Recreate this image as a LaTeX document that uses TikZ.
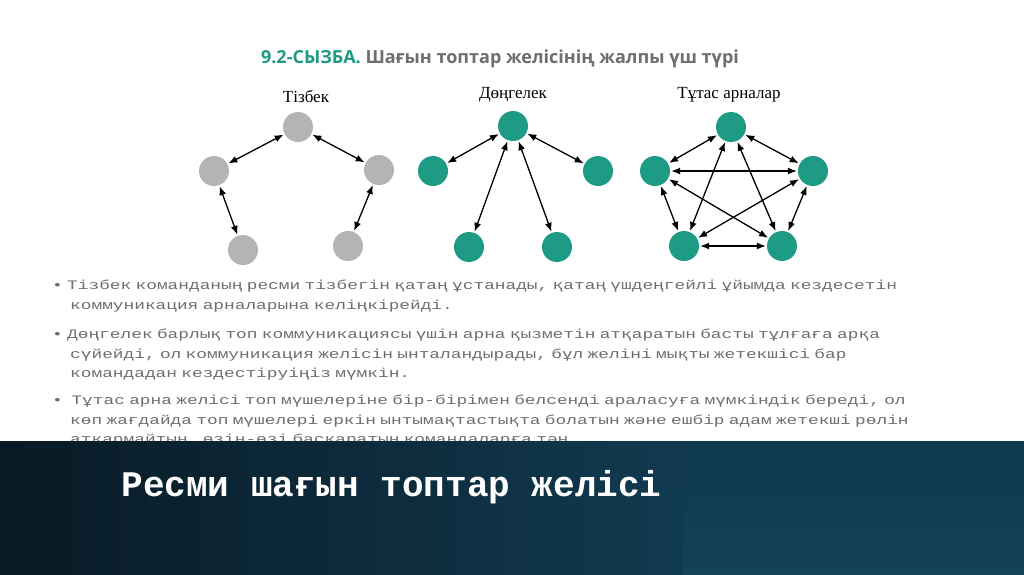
\documentclass[tikz,border=0pt]{standalone}
\usepackage{fontspec}
\setmainfont{Liberation Serif}
\newfontfamily\titlefont{Open Sans}
\newfontfamily\bodyfont[FakeStretch=1.37]{Liberation Mono}
\newfontfamily\bigfont{Liberation Mono}
\usetikzlibrary{arrows.meta}
\definecolor{tealc}{HTML}{1E9B84}
\definecolor{greyc}{HTML}{B4B4B4}
\definecolor{txtc}{HTML}{6E6E6E}
\tikzset{
  x=1pt,y=-1pt,
  gnode/.style={circle,fill=greyc,minimum size=30pt,inner sep=0pt},
  tnode/.style={circle,fill=tealc,minimum size=30pt,inner sep=0pt},
  link/.style={{Latex[length=9pt,width=7pt]}-{Latex[length=9pt,width=7pt]},line width=1.3pt,shorten <=1pt,shorten >=1pt},
  lbl/.style={font=\fontsize{17}{19}\selectfont},
  bullet/.style={anchor=north west,align=left,text width=950pt,inner sep=0pt,text=txtc,font=\bodyfont\fontsize{13}{19.5}\selectfont}
}
\begin{document}
\begin{tikzpicture}
\useasboundingbox (0,0) rectangle (1024,574);
\fill[white] (0,0) rectangle (1024,574);
\node (title) at (500,59) {\titlefont\bfseries\fontsize{18}{20}\selectfont\textcolor{tealc}{9.2-СЫЗБА.}\ \textcolor{txtc}{Шағын топтар желісінің жалпы үш түрі}};
\node[lbl] (l1) at (306,96) {Тізбек};
\node[lbl] (l2) at (513,95) {Дөңгелек};
\node[lbl] (l3) at (729,95) {Тұтас арналар};
% chain
\node[gnode] (c1) at (298,127) {};
\node[gnode] (c2) at (214,171) {};
\node[gnode] (c3) at (379,170) {};
\node[gnode] (c4) at (243,250) {};
\node[gnode] (c5) at (348,246) {};
\draw[link] (c1) -- (c2); \draw[link] (c1) -- (c3);
\draw[link] (c2) -- (c4); \draw[link] (c3) -- (c5);
% wheel
\node[tnode] (w1) at (513,126) {};
\node[tnode] (w2) at (433,171) {};
\node[tnode] (w3) at (598,171) {};
\node[tnode] (w4) at (469,247) {};
\node[tnode] (w5) at (557,247) {};
\foreach \n in {w2,w3,w4,w5} \draw[link] (w1) -- (\n);
% full
\node[tnode] (f1) at (731,127) {};
\node[tnode] (f2) at (655,171) {};
\node[tnode] (f3) at (813,171) {};
\node[tnode] (f4) at (684,246) {};
\node[tnode] (f5) at (782,246) {};
\draw[link] (f1) -- (f2); \draw[link] (f1) -- (f3); \draw[link] (f1) -- (f4); \draw[link] (f1) -- (f5);
\draw[link] (f2) -- (f3); \draw[link] (f2) -- (f4); \draw[link] (f2) -- (f5);
\draw[link] (f3) -- (f4); \draw[link] (f3) -- (f5); \draw[link] (f4) -- (f5);
% bullets
\node[bullet] (b1) at (52,280) {\textbullet\ Тізбек команданың ресми тізбегін қатаң ұстанады, қатаң үшдеңгейлі ұйымда кездесетін\\\hspace*{18pt}коммуникация арналарына келіңкірейді.};
\node[bullet] (b2) at (52,329) {\textbullet\ Дөңгелек барлық топ коммуникациясы үшін арна қызметін атқаратын басты тұлғаға арқа\\\hspace*{18pt}сүйейді, ол коммуникация желісін ынталандырады, бұл желіні мықты жетекшісі бар\\\hspace*{18pt}командадан кездестіруіңіз мүмкін.};
\node[bullet] (b3) at (52,395) {\textbullet\ \ Тұтас арна желісі топ мүшелеріне бір-бірімен белсенді араласуға мүмкіндік береді, ол\\\hspace*{18pt}көп жағдайда топ мүшелері еркін ынтымақтастықта болатын және ешбір адам жетекші рөлін\\\hspace*{18pt}атқармайтын, өзін-өзі басқаратын командаларға тән.};
% band
\shade[left color={rgb,255:red,8;green,26;blue,36},right color={rgb,255:red,17;green,58;blue,80}] (0,441) rectangle (683,574);
\shade[top color={rgb,255:red,14;green,56;blue,78},bottom color={rgb,255:red,20;green,66;blue,88}] (683,441) rectangle (1024,574);
\node[text=white,anchor=west] (bt) at (118,487) {\bigfont\bfseries\fontsize{36}{40}\selectfont Ресми шағын топтар желісі};
\end{tikzpicture}
\end{document}
